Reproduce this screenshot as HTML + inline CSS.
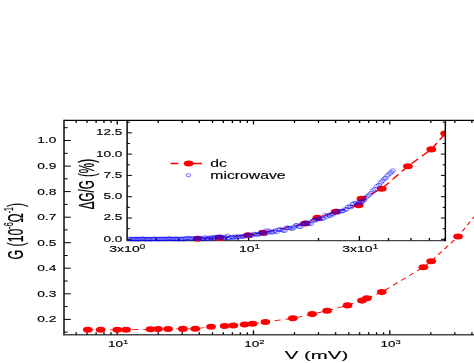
<!DOCTYPE html><html><head><meta charset="utf-8"><style>html,body{margin:0;padding:0;background:#fff}svg{display:block}text{font-family:"Liberation Sans",sans-serif;fill:#000;stroke:#000;stroke-width:0.14px}</style></head><body>
<svg width="474" height="363" viewBox="0 0 474 363">
<rect width="474" height="363" fill="#fff"/>
<g style="will-change:transform">
<g stroke="#000" fill="none">
<path d="M64.0,335.20000000000005 V119.75" stroke-width="1.45"/>
<path d="M64.0,120.35 H476" stroke-width="1.3"/>
<path d="M63.4,334.70000000000005 H476" stroke-width="1.5" stroke="#484848"/>
<path d="M127.1,120.35 V241.1" stroke-width="1.45"/>
<path d="M127.1,240.6 H445.35" stroke-width="1.3" stroke="#484848"/>
<path d="M64.0,140.5 h6.8 M64.0,166.1 h6.8 M64.0,191.6 h6.8 M64.0,217.2 h6.8 M64.0,242.7 h6.8 M64.0,268.2 h6.8 M64.0,293.8 h6.8 M64.0,319.4 h6.8 M64.0,127.7 h3.7 M64.0,153.3 h3.7 M64.0,178.8 h3.7 M64.0,204.4 h3.7 M64.0,229.9 h3.7 M64.0,255.5 h3.7 M64.0,281.0 h3.7 M64.0,306.6 h3.7 M64.0,332.1 h3.7" stroke-width="1"/>
<path d="M76.2,334.6 v-2.4 M76.2,120.35 v2.7 M87.0,334.6 v-2.4 M87.0,120.35 v2.7 M96.1,334.6 v-2.4 M96.1,120.35 v2.7 M104.0,334.6 v-2.4 M104.0,120.35 v2.7 M111.0,334.6 v-2.4 M111.0,120.35 v2.7 M117.2,334.6 v-4.4 M117.2,120.35 v4.2 M158.2,334.6 v-2.4 M158.2,120.35 v2.7 M182.2,334.6 v-2.4 M182.2,120.35 v2.7 M199.3,334.6 v-2.4 M199.3,120.35 v2.7 M212.5,334.6 v-2.4 M212.5,120.35 v2.7 M223.3,334.6 v-2.4 M223.3,120.35 v2.7 M232.4,334.6 v-2.4 M232.4,120.35 v2.7 M240.3,334.6 v-2.4 M240.3,120.35 v2.7 M247.3,334.6 v-2.4 M247.3,120.35 v2.7 M253.5,334.6 v-4.4 M253.5,120.35 v4.2 M294.5,334.6 v-2.4 M294.5,120.35 v2.7 M318.5,334.6 v-2.4 M318.5,120.35 v2.7 M335.6,334.6 v-2.4 M335.6,120.35 v2.7 M348.8,334.6 v-2.4 M348.8,120.35 v2.7 M359.6,334.6 v-2.4 M359.6,120.35 v2.7 M368.7,334.6 v-2.4 M368.7,120.35 v2.7 M376.6,334.6 v-2.4 M376.6,120.35 v2.7 M383.6,334.6 v-2.4 M383.6,120.35 v2.7 M389.8,334.6 v-4.4 M389.8,120.35 v4.2 M430.8,334.6 v-2.4 M430.8,120.35 v2.7 M454.8,334.6 v-2.4 M454.8,120.35 v2.7 M471.9,334.6 v-2.4 M471.9,120.35 v2.7" stroke-width="1.3"/>
<path d="M127.1,239.3 h4.8 M445.35,239.3 h-4.4 M127.1,228.7 h2.8 M445.35,228.7 h-2.7 M127.1,218.0 h4.8 M445.35,218.0 h-4.4 M127.1,207.4 h2.8 M445.35,207.4 h-2.7 M127.1,196.7 h4.8 M445.35,196.7 h-4.4 M127.1,186.1 h2.8 M445.35,186.1 h-2.7 M127.1,175.4 h4.8 M445.35,175.4 h-4.4 M127.1,164.8 h2.8 M445.35,164.8 h-2.7 M127.1,154.1 h4.8 M445.35,154.1 h-4.4 M127.1,143.5 h2.8 M445.35,143.5 h-2.7 M127.1,132.8 h4.8 M445.35,132.8 h-4.4 M127.1,122.2 h2.8 M445.35,122.2 h-2.7" stroke-width="1"/>
<path d="M156.2,240.6 v-2.6 M178.7,240.6 v-2.6 M197.1,240.6 v-2.6 M212.6,240.6 v-2.6 M226.1,240.6 v-2.6 M238.0,240.6 v-2.6 M248.6,240.6 v-4.7 M318.5,240.6 v-2.6 M359.4,240.6 v-4.7 M388.5,240.6 v-2.6 M411.0,240.6 v-2.6 M429.4,240.6 v-2.6 M444.9,240.6 v-2.6" stroke-width="1.3"/>
</g>
<g transform="scale(1.58,1)"><path d="M55.57,329.8 L63.73,329.8 L74.24,329.8 L79.81,329.7 L95.25,329.3 L100.06,329.1 L106.39,329.0 L115.70,328.9 L123.61,328.7 L133.54,326.8 L142.15,326.0 L147.72,325.5 L154.81,324.5 L159.87,323.8 L167.97,322.0 L185.32,318.3 L197.59,314.1 L207.03,310.8 L219.94,305.4 L229.11,300.6 L232.22,298.3 L241.65,292.1 L267.97,267.2 L272.91,261.2 L289.94,236.5 L302.53,212.0" fill="none" stroke="#ff0000" stroke-width="0.85" stroke-dasharray="3.9 3.1"/></g>
<ellipse cx="87.8" cy="329.8" rx="4.85" ry="3.05" fill="#ff0000"/>
<ellipse cx="100.7" cy="329.8" rx="4.85" ry="3.05" fill="#ff0000"/>
<ellipse cx="117.3" cy="329.8" rx="4.85" ry="3.05" fill="#ff0000"/>
<ellipse cx="126.1" cy="329.7" rx="4.85" ry="3.05" fill="#ff0000"/>
<ellipse cx="150.5" cy="329.3" rx="4.85" ry="3.05" fill="#ff0000"/>
<ellipse cx="158.1" cy="329.1" rx="4.85" ry="3.05" fill="#ff0000"/>
<ellipse cx="168.1" cy="329" rx="4.85" ry="3.05" fill="#ff0000"/>
<ellipse cx="182.8" cy="328.9" rx="4.85" ry="3.05" fill="#ff0000"/>
<ellipse cx="195.3" cy="328.7" rx="4.85" ry="3.05" fill="#ff0000"/>
<ellipse cx="211" cy="326.8" rx="4.85" ry="3.05" fill="#ff0000"/>
<ellipse cx="224.6" cy="326" rx="4.85" ry="3.05" fill="#ff0000"/>
<ellipse cx="233.4" cy="325.5" rx="4.85" ry="3.05" fill="#ff0000"/>
<ellipse cx="244.6" cy="324.5" rx="4.85" ry="3.05" fill="#ff0000"/>
<ellipse cx="252.6" cy="323.8" rx="4.85" ry="3.05" fill="#ff0000"/>
<ellipse cx="265.4" cy="322" rx="4.85" ry="3.05" fill="#ff0000"/>
<ellipse cx="292.8" cy="318.3" rx="4.85" ry="3.05" fill="#ff0000"/>
<ellipse cx="312.2" cy="314.1" rx="4.85" ry="3.05" fill="#ff0000"/>
<ellipse cx="327.1" cy="310.8" rx="4.85" ry="3.05" fill="#ff0000"/>
<ellipse cx="347.5" cy="305.4" rx="4.85" ry="3.05" fill="#ff0000"/>
<ellipse cx="362" cy="300.6" rx="4.85" ry="3.05" fill="#ff0000"/>
<ellipse cx="366.9" cy="298.3" rx="4.85" ry="3.05" fill="#ff0000"/>
<ellipse cx="381.8" cy="292.1" rx="4.85" ry="3.05" fill="#ff0000"/>
<ellipse cx="423.4" cy="267.2" rx="4.85" ry="3.05" fill="#ff0000"/>
<ellipse cx="431.2" cy="261.2" rx="4.85" ry="3.05" fill="#ff0000"/>
<ellipse cx="458.1" cy="236.5" rx="4.85" ry="3.05" fill="#ff0000"/>
<clipPath id="ci"><rect x="127.1" y="120.35" width="318.25" height="121.75"/></clipPath>
<g clip-path="url(#ci)"><g transform="scale(1.58,1)"><path d="M125.00,238.7 L138.80,237.9 L157.03,235.2 L166.52,232.7 L193.16,223.5 L200.82,217.8 L212.41,211.8 L227.09,205.2 L228.73,198.7 L241.65,188.8 L258.16,166.2 L272.97,149.4 L281.71,133.6" fill="none" stroke="#ff0000" stroke-width="1.15" stroke-dasharray="6.3 3.7" stroke-dashoffset="6.6"/></g>
<ellipse cx="197.5" cy="238.7" rx="4.85" ry="3.05" fill="#ff0000"/>
<ellipse cx="219.3" cy="237.9" rx="4.85" ry="3.05" fill="#ff0000"/>
<ellipse cx="248.1" cy="235.2" rx="4.85" ry="3.05" fill="#ff0000"/>
<ellipse cx="263.1" cy="232.7" rx="4.85" ry="3.05" fill="#ff0000"/>
<ellipse cx="305.2" cy="223.5" rx="4.85" ry="3.05" fill="#ff0000"/>
<ellipse cx="317.3" cy="217.8" rx="4.85" ry="3.05" fill="#ff0000"/>
<ellipse cx="335.6" cy="211.8" rx="4.85" ry="3.05" fill="#ff0000"/>
<ellipse cx="358.8" cy="205.2" rx="4.85" ry="3.05" fill="#ff0000"/>
<ellipse cx="361.4" cy="198.7" rx="4.85" ry="3.05" fill="#ff0000"/>
<ellipse cx="381.8" cy="188.8" rx="4.85" ry="3.05" fill="#ff0000"/>
<ellipse cx="407.9" cy="166.2" rx="4.85" ry="3.05" fill="#ff0000"/>
<ellipse cx="431.3" cy="149.4" rx="4.85" ry="3.05" fill="#ff0000"/>
<ellipse cx="445.1" cy="133.6" rx="4.85" ry="3.05" fill="#ff0000"/>
<g fill="none" stroke="#0000ff" stroke-width="0.5">
<ellipse cx="129.3" cy="239.0" rx="2.7" ry="1.75"/>
<ellipse cx="130.5" cy="239.0" rx="2.7" ry="1.75"/>
<ellipse cx="131.9" cy="239.1" rx="2.7" ry="1.75"/>
<ellipse cx="133.1" cy="239.0" rx="2.7" ry="1.75"/>
<ellipse cx="134.1" cy="239.2" rx="2.7" ry="1.75"/>
<ellipse cx="135.4" cy="238.9" rx="2.7" ry="1.75"/>
<ellipse cx="136.4" cy="239.2" rx="2.7" ry="1.75"/>
<ellipse cx="137.4" cy="238.8" rx="2.7" ry="1.75"/>
<ellipse cx="138.7" cy="239.3" rx="2.7" ry="1.75"/>
<ellipse cx="140.1" cy="239.1" rx="2.7" ry="1.75"/>
<ellipse cx="141.4" cy="238.8" rx="2.7" ry="1.75"/>
<ellipse cx="142.4" cy="238.8" rx="2.7" ry="1.75"/>
<ellipse cx="143.6" cy="238.9" rx="2.7" ry="1.75"/>
<ellipse cx="144.7" cy="239.0" rx="2.7" ry="1.75"/>
<ellipse cx="145.7" cy="239.2" rx="2.7" ry="1.75"/>
<ellipse cx="146.8" cy="239.1" rx="2.7" ry="1.75"/>
<ellipse cx="148.0" cy="239.1" rx="2.7" ry="1.75"/>
<ellipse cx="149.2" cy="238.9" rx="2.7" ry="1.75"/>
<ellipse cx="150.4" cy="239.3" rx="2.7" ry="1.75"/>
<ellipse cx="151.9" cy="239.1" rx="2.7" ry="1.75"/>
<ellipse cx="153.2" cy="238.9" rx="2.7" ry="1.75"/>
<ellipse cx="154.3" cy="238.8" rx="2.7" ry="1.75"/>
<ellipse cx="155.4" cy="239.0" rx="2.7" ry="1.75"/>
<ellipse cx="156.8" cy="239.0" rx="2.7" ry="1.75"/>
<ellipse cx="158.1" cy="239.2" rx="2.7" ry="1.75"/>
<ellipse cx="159.6" cy="238.9" rx="2.7" ry="1.75"/>
<ellipse cx="160.5" cy="239.0" rx="2.7" ry="1.75"/>
<ellipse cx="161.9" cy="238.9" rx="2.7" ry="1.75"/>
<ellipse cx="163.4" cy="239.1" rx="2.7" ry="1.75"/>
<ellipse cx="164.4" cy="238.8" rx="2.7" ry="1.75"/>
<ellipse cx="165.8" cy="238.9" rx="2.7" ry="1.75"/>
<ellipse cx="166.9" cy="239.1" rx="2.7" ry="1.75"/>
<ellipse cx="168.4" cy="238.8" rx="2.7" ry="1.75"/>
<ellipse cx="169.4" cy="238.6" rx="2.7" ry="1.75"/>
<ellipse cx="170.5" cy="238.7" rx="2.7" ry="1.75"/>
<ellipse cx="172.0" cy="238.9" rx="2.7" ry="1.75"/>
<ellipse cx="173.3" cy="239.1" rx="2.7" ry="1.75"/>
<ellipse cx="174.5" cy="239.0" rx="2.7" ry="1.75"/>
<ellipse cx="175.7" cy="238.8" rx="2.7" ry="1.75"/>
<ellipse cx="176.8" cy="238.6" rx="2.7" ry="1.75"/>
<ellipse cx="178.1" cy="239.1" rx="2.7" ry="1.75"/>
<ellipse cx="179.7" cy="239.2" rx="2.7" ry="1.75"/>
<ellipse cx="181.0" cy="238.7" rx="2.7" ry="1.75"/>
<ellipse cx="182.3" cy="238.9" rx="2.7" ry="1.75"/>
<ellipse cx="183.9" cy="239.3" rx="2.7" ry="1.75"/>
<ellipse cx="185.1" cy="238.4" rx="2.7" ry="1.75"/>
<ellipse cx="186.4" cy="238.5" rx="2.7" ry="1.75"/>
<ellipse cx="188.0" cy="238.1" rx="2.7" ry="1.75"/>
<ellipse cx="189.4" cy="238.7" rx="2.7" ry="1.75"/>
<ellipse cx="190.7" cy="238.7" rx="2.7" ry="1.75"/>
<ellipse cx="192.0" cy="238.5" rx="2.7" ry="1.75"/>
<ellipse cx="193.5" cy="238.5" rx="2.7" ry="1.75"/>
<ellipse cx="195.3" cy="239.0" rx="2.7" ry="1.75"/>
<ellipse cx="196.9" cy="238.0" rx="2.7" ry="1.75"/>
<ellipse cx="198.3" cy="238.9" rx="2.7" ry="1.75"/>
<ellipse cx="200.1" cy="237.9" rx="2.7" ry="1.75"/>
<ellipse cx="201.2" cy="239.0" rx="2.7" ry="1.75"/>
<ellipse cx="202.6" cy="239.0" rx="2.7" ry="1.75"/>
<ellipse cx="203.7" cy="238.4" rx="2.7" ry="1.75"/>
<ellipse cx="205.1" cy="237.5" rx="2.7" ry="1.75"/>
<ellipse cx="206.4" cy="238.9" rx="2.7" ry="1.75"/>
<ellipse cx="207.4" cy="238.4" rx="2.7" ry="1.75"/>
<ellipse cx="208.6" cy="238.6" rx="2.7" ry="1.75"/>
<ellipse cx="209.8" cy="237.6" rx="2.7" ry="1.75"/>
<ellipse cx="211.1" cy="238.3" rx="2.7" ry="1.75"/>
<ellipse cx="212.3" cy="237.4" rx="2.7" ry="1.75"/>
<ellipse cx="213.4" cy="238.5" rx="2.7" ry="1.75"/>
<ellipse cx="214.8" cy="237.3" rx="2.7" ry="1.75"/>
<ellipse cx="216.1" cy="237.1" rx="2.7" ry="1.75"/>
<ellipse cx="217.7" cy="237.2" rx="2.7" ry="1.75"/>
<ellipse cx="218.8" cy="236.7" rx="2.7" ry="1.75"/>
<ellipse cx="220.2" cy="237.2" rx="2.7" ry="1.75"/>
<ellipse cx="221.4" cy="236.6" rx="2.7" ry="1.75"/>
<ellipse cx="222.8" cy="238.2" rx="2.7" ry="1.75"/>
<ellipse cx="224.1" cy="237.6" rx="2.7" ry="1.75"/>
<ellipse cx="225.7" cy="237.3" rx="2.7" ry="1.75"/>
<ellipse cx="227.2" cy="235.9" rx="2.7" ry="1.75"/>
<ellipse cx="228.5" cy="237.9" rx="2.7" ry="1.75"/>
<ellipse cx="229.6" cy="237.9" rx="2.7" ry="1.75"/>
<ellipse cx="231.2" cy="237.0" rx="2.7" ry="1.75"/>
<ellipse cx="232.4" cy="237.2" rx="2.7" ry="1.75"/>
<ellipse cx="233.8" cy="237.8" rx="2.7" ry="1.75"/>
<ellipse cx="235.2" cy="236.5" rx="2.7" ry="1.75"/>
<ellipse cx="236.4" cy="237.3" rx="2.7" ry="1.75"/>
<ellipse cx="238.0" cy="236.6" rx="2.7" ry="1.75"/>
<ellipse cx="239.6" cy="237.0" rx="2.7" ry="1.75"/>
<ellipse cx="241.2" cy="236.3" rx="2.7" ry="1.75"/>
<ellipse cx="242.7" cy="236.6" rx="2.7" ry="1.75"/>
<ellipse cx="244.4" cy="236.3" rx="2.7" ry="1.75"/>
<ellipse cx="245.8" cy="235.5" rx="2.7" ry="1.75"/>
<ellipse cx="247.5" cy="234.8" rx="2.7" ry="1.75"/>
<ellipse cx="249.1" cy="235.2" rx="2.7" ry="1.75"/>
<ellipse cx="250.7" cy="235.1" rx="2.7" ry="1.75"/>
<ellipse cx="252.1" cy="235.6" rx="2.7" ry="1.75"/>
<ellipse cx="253.9" cy="233.9" rx="2.7" ry="1.75"/>
<ellipse cx="255.5" cy="234.2" rx="2.7" ry="1.75"/>
<ellipse cx="257.2" cy="234.8" rx="2.7" ry="1.75"/>
<ellipse cx="258.7" cy="234.3" rx="2.7" ry="1.75"/>
<ellipse cx="260.1" cy="233.6" rx="2.7" ry="1.75"/>
<ellipse cx="261.4" cy="232.2" rx="2.7" ry="1.75"/>
<ellipse cx="262.9" cy="232.8" rx="2.7" ry="1.75"/>
<ellipse cx="264.6" cy="234.0" rx="2.7" ry="1.75"/>
<ellipse cx="266.2" cy="230.6" rx="2.7" ry="1.75"/>
<ellipse cx="267.6" cy="232.7" rx="2.7" ry="1.75"/>
<ellipse cx="269.0" cy="230.7" rx="2.7" ry="1.75"/>
<ellipse cx="270.4" cy="232.1" rx="2.7" ry="1.75"/>
<ellipse cx="272.2" cy="232.6" rx="2.7" ry="1.75"/>
<ellipse cx="273.7" cy="231.6" rx="2.7" ry="1.75"/>
<ellipse cx="275.2" cy="230.6" rx="2.7" ry="1.75"/>
<ellipse cx="276.6" cy="232.0" rx="2.7" ry="1.75"/>
<ellipse cx="278.3" cy="229.9" rx="2.7" ry="1.75"/>
<ellipse cx="280.0" cy="229.4" rx="2.7" ry="1.75"/>
<ellipse cx="281.6" cy="229.7" rx="2.7" ry="1.75"/>
<ellipse cx="283.0" cy="230.6" rx="2.7" ry="1.75"/>
<ellipse cx="284.7" cy="230.7" rx="2.7" ry="1.75"/>
<ellipse cx="286.4" cy="227.7" rx="2.7" ry="1.75"/>
<ellipse cx="287.8" cy="227.8" rx="2.7" ry="1.75"/>
<ellipse cx="289.3" cy="228.0" rx="2.7" ry="1.75"/>
<ellipse cx="290.7" cy="228.0" rx="2.7" ry="1.75"/>
<ellipse cx="292.3" cy="228.9" rx="2.7" ry="1.75"/>
<ellipse cx="293.8" cy="227.4" rx="2.7" ry="1.75"/>
<ellipse cx="295.6" cy="225.5" rx="2.7" ry="1.75"/>
<ellipse cx="296.9" cy="225.2" rx="2.7" ry="1.75"/>
<ellipse cx="298.7" cy="226.6" rx="2.7" ry="1.75"/>
<ellipse cx="300.3" cy="226.9" rx="2.7" ry="1.75"/>
<ellipse cx="301.7" cy="224.3" rx="2.7" ry="1.75"/>
<ellipse cx="303.0" cy="223.6" rx="2.7" ry="1.75"/>
<ellipse cx="304.5" cy="223.9" rx="2.7" ry="1.75"/>
<ellipse cx="306.3" cy="222.6" rx="2.7" ry="1.75"/>
<ellipse cx="307.6" cy="223.4" rx="2.7" ry="1.75"/>
<ellipse cx="309.2" cy="223.5" rx="2.7" ry="1.75"/>
<ellipse cx="310.8" cy="224.0" rx="2.7" ry="1.75"/>
<ellipse cx="312.6" cy="220.7" rx="2.7" ry="1.75"/>
<ellipse cx="314.3" cy="220.0" rx="2.7" ry="1.75"/>
<ellipse cx="315.8" cy="220.4" rx="2.7" ry="1.75"/>
<ellipse cx="317.0" cy="219.0" rx="2.7" ry="1.75"/>
<ellipse cx="318.7" cy="218.8" rx="2.7" ry="1.75"/>
<ellipse cx="320.1" cy="218.8" rx="2.7" ry="1.75"/>
<ellipse cx="321.8" cy="218.9" rx="2.7" ry="1.75"/>
<ellipse cx="323.4" cy="218.4" rx="2.7" ry="1.75"/>
<ellipse cx="324.9" cy="215.3" rx="2.7" ry="1.75"/>
<ellipse cx="326.7" cy="216.7" rx="2.7" ry="1.75"/>
<ellipse cx="328.6" cy="215.0" rx="2.7" ry="1.75"/>
<ellipse cx="329.9" cy="216.0" rx="2.7" ry="1.75"/>
<ellipse cx="331.5" cy="214.2" rx="2.7" ry="1.75"/>
<ellipse cx="333.0" cy="214.4" rx="2.7" ry="1.75"/>
<ellipse cx="334.8" cy="212.5" rx="2.7" ry="1.75"/>
<ellipse cx="336.7" cy="210.8" rx="2.7" ry="1.75"/>
<ellipse cx="338.3" cy="212.3" rx="2.7" ry="1.75"/>
<ellipse cx="340.0" cy="211.2" rx="2.7" ry="1.75"/>
<ellipse cx="341.7" cy="211.2" rx="2.7" ry="1.75"/>
<ellipse cx="343.0" cy="210.9" rx="2.7" ry="1.75"/>
<ellipse cx="344.9" cy="209.5" rx="2.7" ry="1.75"/>
<ellipse cx="346.5" cy="209.3" rx="2.7" ry="1.75"/>
<ellipse cx="347.9" cy="206.9" rx="2.7" ry="1.75"/>
<ellipse cx="349.7" cy="206.5" rx="2.7" ry="1.75"/>
<ellipse cx="351.0" cy="207.1" rx="2.7" ry="1.75"/>
<ellipse cx="352.5" cy="204.0" rx="2.7" ry="1.75"/>
<ellipse cx="354.1" cy="203.5" rx="2.7" ry="1.75"/>
<ellipse cx="355.9" cy="203.1" rx="2.7" ry="1.75"/>
<ellipse cx="357.6" cy="204.5" rx="2.7" ry="1.75"/>
<ellipse cx="359.0" cy="201.8" rx="2.7" ry="1.75"/>
<ellipse cx="360.3" cy="203.0" rx="2.7" ry="1.75"/>
<ellipse cx="361.9" cy="201.7" rx="2.7" ry="1.75"/>
<ellipse cx="362.5" cy="201.1" rx="2.7" ry="1.75"/>
<ellipse cx="364.3" cy="199.7" rx="2.7" ry="1.75"/>
<ellipse cx="365.8" cy="197.5" rx="2.7" ry="1.75"/>
<ellipse cx="367.7" cy="196.0" rx="2.7" ry="1.75"/>
<ellipse cx="369.6" cy="194.5" rx="2.7" ry="1.75"/>
<ellipse cx="371.4" cy="192.9" rx="2.7" ry="1.75"/>
<ellipse cx="373.3" cy="190.4" rx="2.7" ry="1.75"/>
<ellipse cx="375.0" cy="189.1" rx="2.7" ry="1.75"/>
<ellipse cx="377.0" cy="186.2" rx="2.7" ry="1.75"/>
<ellipse cx="379.0" cy="184.9" rx="2.7" ry="1.75"/>
<ellipse cx="380.8" cy="182.5" rx="2.7" ry="1.75"/>
<ellipse cx="382.5" cy="180.8" rx="2.7" ry="1.75"/>
<ellipse cx="384.3" cy="178.9" rx="2.7" ry="1.75"/>
<ellipse cx="385.8" cy="177.7" rx="2.7" ry="1.75"/>
<ellipse cx="387.6" cy="175.4" rx="2.7" ry="1.75"/>
<ellipse cx="389.6" cy="173.7" rx="2.7" ry="1.75"/>
<ellipse cx="391.4" cy="172.2" rx="2.7" ry="1.75"/>
<ellipse cx="392.9" cy="170.5" rx="2.7" ry="1.75"/>
</g></g>
<path d="M445.35,120.35 V241.2" stroke="#000" stroke-width="1.45" fill="none"/>
<text transform="translate(56.3,143.4) scale(1.56,1)" font-size="8.8" text-anchor="end" >1.0</text>
<text transform="translate(56.3,168.95000000000002) scale(1.56,1)" font-size="8.8" text-anchor="end" >0.9</text>
<text transform="translate(56.3,194.5) scale(1.56,1)" font-size="8.8" text-anchor="end" >0.8</text>
<text transform="translate(56.3,220.05) scale(1.56,1)" font-size="8.8" text-anchor="end" >0.7</text>
<text transform="translate(56.3,245.6) scale(1.56,1)" font-size="8.8" text-anchor="end" >0.5</text>
<text transform="translate(56.3,271.15) scale(1.56,1)" font-size="8.8" text-anchor="end" >0.4</text>
<text transform="translate(56.3,296.7) scale(1.56,1)" font-size="8.8" text-anchor="end" >0.3</text>
<text transform="translate(56.3,322.25) scale(1.56,1)" font-size="8.8" text-anchor="end" >0.2</text>
<text transform="translate(122.4,135.25) scale(1.56,1)" font-size="8.7" text-anchor="end" >12.5</text>
<text transform="translate(122.4,156.55) scale(1.56,1)" font-size="8.7" text-anchor="end" >10.0</text>
<text transform="translate(122.4,177.85) scale(1.56,1)" font-size="8.7" text-anchor="end" >7.5</text>
<text transform="translate(122.4,199.15) scale(1.56,1)" font-size="8.7" text-anchor="end" >5.0</text>
<text transform="translate(122.4,220.45) scale(1.56,1)" font-size="8.7" text-anchor="end" >2.5</text>
<text transform="translate(122.4,241.75) scale(1.56,1)" font-size="8.7" text-anchor="end" >0.0</text>
<text transform="translate(108.0,347.1) scale(1.52,1)" font-size="8.9" text-anchor="start">10<tspan dy="-3.4" font-size="6.2">1</tspan></text>
<text transform="translate(244.3,347.1) scale(1.52,1)" font-size="8.9" text-anchor="start">10<tspan dy="-3.4" font-size="6.2">2</tspan></text>
<text transform="translate(380.5,347.1) scale(1.52,1)" font-size="8.9" text-anchor="start">10<tspan dy="-3.4" font-size="6.2">3</tspan></text>
<text transform="translate(109.3,252.2) scale(1.56,1)" font-size="9" text-anchor="start">3x10<tspan dy="-3.4" font-size="6.3">0</tspan></text>
<text transform="translate(239.0,252.2) scale(1.56,1)" font-size="9" text-anchor="start">10<tspan dy="-3.4" font-size="6.3">1</tspan></text>
<text transform="translate(342.2,252.2) scale(1.56,1)" font-size="9" text-anchor="start">3x10<tspan dy="-3.4" font-size="6.3">1</tspan></text>
<text transform="translate(284.8,358.9) scale(1.82,1)" font-size="11.2" text-anchor="start" >V (mV)</text>
<path d="M170.5,163.5 H178.5 M186,163.5 H202" stroke="#ff0000" stroke-width="1.5" fill="none"/>
<ellipse cx="188.7" cy="163.5" rx="4.85" ry="3.05" fill="#ff0000"/>
<ellipse cx="188.4" cy="175.2" rx="2.4" ry="1.6" fill="none" stroke="#0000ff" stroke-width="0.55"/>
<text transform="translate(210.3,167.0) scale(1.575,1)" font-size="10" text-anchor="start" >dc</text>
<text transform="translate(210.3,178.8) scale(1.575,1)" font-size="10" text-anchor="start" >microwave</text>
<text transform="translate(23,259.4) rotate(-90) scale(1,1.76)" font-size="12.3">G (10<tspan dy="-5.85" font-size="7">-6</tspan><tspan dy="5.85">Ω</tspan><tspan dy="-5.85" font-size="7">-1</tspan><tspan dy="5.85">)</tspan></text>
<text transform="translate(93.6,209.2) rotate(-90) scale(1,1.87)" font-size="11.6">ΔG/G (%)</text>
</g></svg></body></html>
